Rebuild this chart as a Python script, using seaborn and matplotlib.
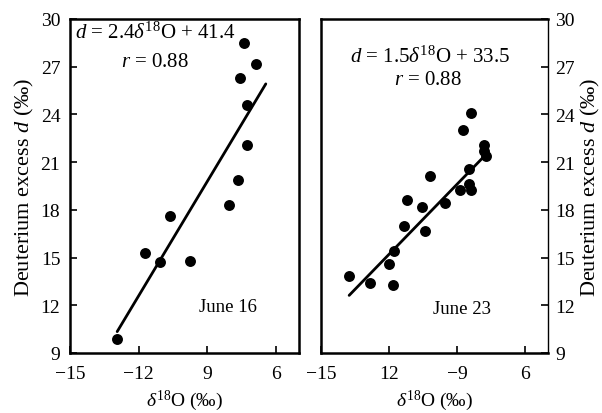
import matplotlib
matplotlib.use("Agg")
import matplotlib.pyplot as plt
import seaborn as sns
import pandas as pd
import numpy as np

# ---- data ----
june16_d18o = [-7.39, -6.88, -7.58, -7.29, -7.25, -7.65, -8.07, -10.62, -11.74, -11.09, -9.75, -12.94]
june16_dex = [28.5, 27.2, 26.3, 24.6, 22.1, 19.9, 18.3, 17.6, 15.3, 14.7, 14.8, 9.9]
june16_slope, june16_intercept = 2.4, 41.4
june16_fit_x = [-12.94, -6.45]

june23_d18o = [-8.39, -8.74, -7.81, -7.81, -7.74, -8.46, -10.21, -8.46, -8.86, -8.39, -11.23,
               -10.53, -9.54, -11.33, -10.41, -11.77, -12.02, -13.76, -12.83, -11.81]
june23_dex = [24.1, 23.0, 22.1, 21.7, 21.4, 20.6, 20.15, 19.6, 19.25, 19.25, 18.6,
              18.2, 18.4, 17.0, 16.65, 15.4, 14.6, 13.85, 13.4, 13.25]
june23_slope, june23_intercept = 1.47, 32.85
june23_fit_x = [-13.76, -7.69]

x_ticks = [-15, -12, -9, -6]
left_xticklabels = ["\u221215", "\u221212", "9", "6"]
right_xticklabels = ["\u221215", "12", "\u22129", "6"]
y_ticks = [9, 12, 15, 18, 21, 24, 27, 30]

sns.set_theme(style="ticks")
plt.rcParams["font.family"] = ["Liberation Serif", "DejaVu Serif"]
plt.rcParams["mathtext.fontset"] = "custom"
plt.rcParams["mathtext.rm"] = "Liberation Serif"
plt.rcParams["mathtext.it"] = "Liberation Serif:italic"
for key in ["text.color", "axes.labelcolor", "xtick.color", "ytick.color",
            "xtick.labelcolor", "ytick.labelcolor", "axes.edgecolor"]:
    plt.rcParams[key] = "black"

fig = plt.figure(figsize=(6.02, 4.14), dpi=100)
ax1 = fig.add_axes([70 / 602, 60 / 414, 229 / 602, 334 / 414])
ax2 = fig.add_axes([321 / 602, 60 / 414, 227 / 602, 334 / 414])

fs = 14
ylab = "Deuterium excess $d$ (\u2030)"
xlab = "$\\delta^{18}$O (\u2030)"


def draw(ax, xs, ys, slope, intercept, fit_x, xticklabels, label, label_pos):
    df = pd.DataFrame({"x": xs, "y": ys})
    sns.scatterplot(data=df, x="x", y="y", ax=ax, color="black", s=62,
                    edgecolor="black", linewidth=0, zorder=3)
    fx = np.array(fit_x)
    line = pd.DataFrame({"x": fx, "y": slope * fx + intercept})
    sns.lineplot(data=line, x="x", y="y", ax=ax, color="black", lw=2.0)
    ax.set_xlim(-15, -5)
    ax.set_ylim(9, 30)
    ax.set_xticks(x_ticks)
    ax.set_xticklabels(xticklabels, fontsize=fs, color="black")
    ax.set_yticks(y_ticks)
    ax.set_yticklabels([str(v) for v in y_ticks], fontsize=fs, color="black")
    ax.tick_params(direction="in", length=5, width=1.2, colors="black")
    ax.tick_params(axis="x", pad=9)
    ax.tick_params(axis="y", pad=7)
    ax.set_xlabel(xlab, fontsize=fs, labelpad=4, color="black")
    for s in ax.spines.values():
        s.set_visible(True)
        s.set_linewidth(1.8)
        s.set_color("black")
    ax.text(label_pos[0], label_pos[1], label, transform=ax.transAxes, fontsize=13.5,
            ha="center", va="center", color="black")


draw(ax1, june16_d18o, june16_dex, june16_slope, june16_intercept, june16_fit_x,
     left_xticklabels, "June 16", (0.69, 0.138))
ax1.set_ylabel(ylab, fontsize=16, labelpad=3, color="black")
ax1.text(0.02, 0.961, "$d$ = 2.4$\\delta^{18}$O + 41.4", transform=ax1.transAxes,
         fontsize=15, ha="left", va="center", color="black")
ax1.text(0.37, 0.874, "$r$ = 0.88", transform=ax1.transAxes,
         fontsize=15, ha="center", va="center", color="black")

draw(ax2, june23_d18o, june23_dex, june23_slope, june23_intercept, june23_fit_x,
     right_xticklabels, "June 23", (0.62, 0.132))
ax2.yaxis.tick_right()
ax2.yaxis.set_label_position("right")
ax2.tick_params(axis="y", pad=5)
ax2.set_ylabel(ylab, fontsize=16, labelpad=3, color="black")
ax2.spines["right"].set_linewidth(1.0)
ax2.text(0.48, 0.889, "$d$ = 1.5$\\delta^{18}$O + 33.5", transform=ax2.transAxes,
         fontsize=15, ha="center", va="center", color="black")
ax2.text(0.47, 0.82, "$r$ = 0.88", transform=ax2.transAxes,
         fontsize=15, ha="center", va="center", color="black")

fig.savefig("out.png", dpi=100)
